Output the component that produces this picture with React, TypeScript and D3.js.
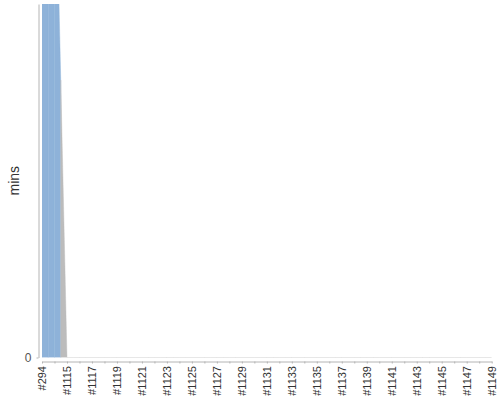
import React, { useEffect, useRef } from "react";
import * as d3 from "d3";

// builds, oldest first (only every other label is drawn)
const builds = [
  "#294", "#1114", "#1115", "#1116", "#1117", "#1118", "#1119", "#1120",
  "#1121", "#1122", "#1123", "#1124", "#1125", "#1126", "#1127", "#1128",
  "#1129", "#1130", "#1131", "#1132", "#1133", "#1134", "#1135", "#1136",
  "#1137", "#1138", "#1139", "#1140", "#1141", "#1142", "#1143", "#1144",
  "#1145", "#1146", "#1147", "#1148", "#1149",
];

// build duration in mins
const durations = [
  310, 157, 0, 0, 0, 0, 0, 0, 0, 0, 0, 0, 0, 0, 0, 0, 0, 0, 0, 0, 0, 0, 0, 0,
  0, 0, 0, 0, 0, 0, 0, 0, 0, 0, 0, 0, 0,
];

// build result -> colour of its half of the area
const results = [
  "blue", "blue", "grey", "grey", "grey", "grey", "grey", "grey", "grey",
  "grey", "grey", "grey", "grey", "grey", "grey", "grey", "grey", "grey",
  "grey", "grey", "grey", "grey", "grey", "grey", "grey", "grey", "grey",
  "grey", "grey", "grey", "grey", "grey", "grey", "grey", "grey", "grey",
  "grey",
];

const resultColors: Record<string, string> = {
  blue: "#8EB2D9",
  grey: "#BCBCBC",
};

const yMax = 100;
const yTicks = [0];
const yLabel = "mins";

interface Pt {
  x: number;
  v: number;
}

const BuildTimeTrend: React.FC = () => {
  const svgRef = useRef<SVGSVGElement | null>(null);

  useEffect(() => {
    if (!svgRef.current) return;

    const svg = d3.select(svgRef.current);
    const width = 500;
    const height = 400;
    const margin = { top: 4, right: 8.3, bottom: 42.5, left: 42 };

    svg.selectAll("*").remove();

    const x = d3
      .scalePoint<string>()
      .domain(builds)
      .range([margin.left, width - margin.right])
      .padding(0);
    const y = d3
      .scaleLinear()
      .domain([0, yMax])
      .range([height - margin.bottom, margin.top]);

    svg
      .append("defs")
      .append("clipPath")
      .attr("id", "plot-clip")
      .append("rect")
      .attr("x", margin.left)
      .attr("y", margin.top)
      .attr("width", width - margin.left - margin.right)
      .attr("height", height - margin.top - margin.bottom);

    const area = d3
      .area<Pt>()
      .x((d) => d.x)
      .y0(y(0))
      .y1((d) => y(d.v));

    const plot = svg.append("g").attr("clip-path", "url(#plot-clip)");

    // each segment is split in two halves, coloured by the build at each end
    for (let i = 1; i < builds.length; i++) {
      const x0 = x(builds[i - 1]) as number;
      const x1 = x(builds[i]) as number;
      const xm = (x0 + x1) / 2;
      const vm = (durations[i - 1] + durations[i]) / 2;
      const halves: [Pt[], string][] = [
        [[{ x: x0, v: durations[i - 1] }, { x: xm, v: vm }], results[i - 1]],
        [[{ x: xm, v: vm }, { x: x1, v: durations[i] }], results[i]],
      ];
      halves.forEach(([pts, r]) => {
        plot
          .append("path")
          .datum(pts)
          .attr("fill", resultColors[r])
          .attr("stroke", resultColors[r])
          .attr("stroke-width", 0.4)
          .attr("d", area);
      });
    }

    // y axis
    const yAxis = svg
      .append("g")
      .attr("transform", `translate(38.5,0)`)
      .call(d3.axisLeft(y).tickValues(yTicks).tickSize(2).tickSizeOuter(0).tickPadding(5));
    yAxis.select(".domain").attr("stroke", "#b4b4b4");
    yAxis.selectAll(".tick line").attr("stroke", "#b4b4b4");
    yAxis
      .selectAll(".tick text")
      .attr("fill", "#555")
      .style("font-family", "'Liberation Sans', Arial, sans-serif")
      .style("font-size", "12px");

    // x axis
    const xAxis = svg
      .append("g")
      .attr("transform", `translate(0,361.5)`)
      .call(
        d3
          .axisBottom(x)
          .tickSize(2)
          .tickSizeOuter(0)
          .tickFormat((d, i) => (i % 2 === 0 ? d : ""))
      );
    xAxis.select(".domain").attr("stroke", "#b4b4b4");
    xAxis.selectAll(".tick line").attr("stroke", "#b4b4b4");
    xAxis
      .selectAll(".tick text")
      .attr("transform", "rotate(-90)")
      .attr("x", -4.5)
      .attr("y", 0)
      .attr("dy", "0.35em")
      .attr("fill", "#333")
      .style("text-anchor", "end")
      .style("font-family", "'Liberation Sans', Arial, sans-serif")
      .style("font-size", "11px");

    svg
      .append("text")
      .attr("transform", `translate(14,${(margin.top + height - margin.bottom) / 2}) rotate(-90)`)
      .attr("text-anchor", "middle")
      .attr("dy", "0.35em")
      .attr("fill", "#333")
      .style("font-family", "'Liberation Sans', Arial, sans-serif")
      .style("font-size", "14px")
      .text(yLabel);
  }, []);

  return (
    <svg
      ref={svgRef}
      width="500"
      height="400"
      style={{ position: "absolute", left: 0, top: 0, background: "#fff" }}
    ></svg>
  );
};

export default function App() {
  return <BuildTimeTrend />;
}
